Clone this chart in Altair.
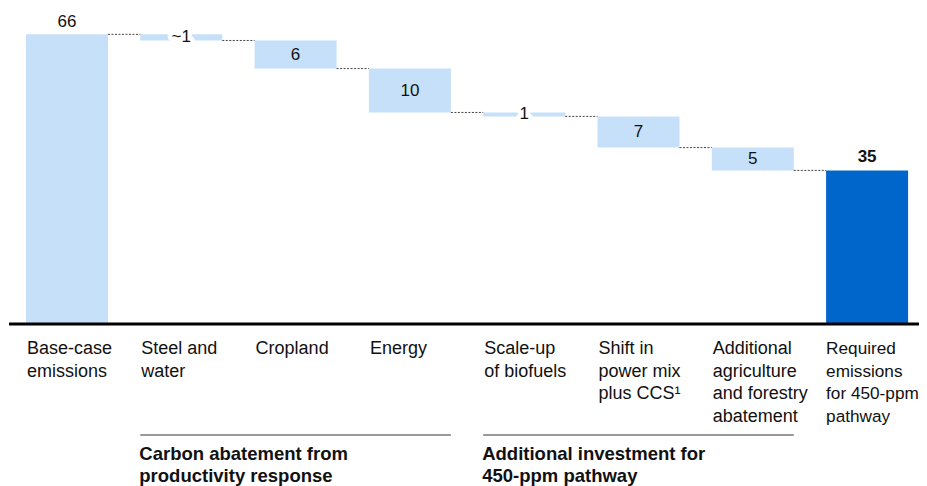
import altair as alt
import pandas as pd

# ---- data ----
categories = [
    "Base-case\nemissions",
    "Steel and\nwater",
    "Cropland",
    "Energy",
    "Scale-up\nof biofuels",
    "Shift in\npower mix\nplus CCS¹",
    "Additional\nagriculture\nand forestry\nabatement",
    "Required\nemissions\nfor 450-ppm\npathway",
]
kinds = ["base", "step", "step", "step", "step", "step", "step", "result"]
amounts = [66, 1.4, 6.4, 10.0, 0.9, 7.1, 5.2, 35]
value_labels = ["66", "~1", "6", "10", "1", "7", "5", "35"]

group_labels = ["Carbon abatement from\nproductivity response",
                "Additional investment for\n450-ppm pathway"]
group_first = [1, 4]
group_last = [3, 6]

# ---- layout / style ----
HW = 0.3587  # half bar width in category units
X_DOMAIN = [-0.5074, 7.4541]
LIGHT = "#C6E0FA"
DARK = "#0066CC"
FONT = "Liberation Sans"

rows = []
level = 0.0
for i, (c, k, a, lab) in enumerate(zip(categories, kinds, amounts, value_labels)):
    if k in ("base", "result"):
        start, end = 0.0, float(a)
    else:
        start, end = level, level - a
    level = end
    rows.append(dict(idx=i, cat=c, kind=k, start=start, end=end,
                     mid=(start + end) / 2, top=max(start, end),
                     left=i - HW, right=i + HW, label=lab, amount=a))
df = pd.DataFrame(rows)

conn = pd.DataFrame([dict(x=r["right"], x2=df.loc[i + 1, "left"], y=r["end"])
                     for i, r in df.iloc[:-1].iterrows()])

gdf = pd.DataFrame(dict(label=group_labels,
                        x=[f - HW for f in group_first],
                        x2=[l + HW for l in group_last]))

axis_df = pd.DataFrame(dict(x=[X_DOMAIN[0]], x2=[X_DOMAIN[1]], y=[0]))

xs = alt.Scale(domain=X_DOMAIN, nice=False, zero=False)
ys = alt.Scale(domain=[0, 72], nice=False)

base = alt.Chart(df)

bars = base.mark_rect().encode(
    x=alt.X("left:Q", scale=xs, axis=None),
    x2="right:Q",
    y=alt.Y("start:Q", scale=ys, axis=None),
    y2="end:Q",
    color=alt.Color("kind:N", legend=None,
                    scale=alt.Scale(domain=["base", "step", "result"],
                                    range=[LIGHT, LIGHT, DARK])),
)

baseline = alt.Chart(axis_df).mark_rule(color="black", strokeWidth=3).encode(
    x=alt.X("x:Q", scale=xs, axis=None), x2="x2:Q",
    y=alt.Y("y:Q", scale=ys, axis=None))

connectors = alt.Chart(conn).mark_rule(color="#444", strokeWidth=1,
                                       strokeDash=[2, 1.5]).encode(
    x=alt.X("x:Q", scale=xs, axis=None), x2="x2:Q",
    y=alt.Y("y:Q", scale=ys, axis=None))

halo = base.transform_filter("datum.kind == 'step' && datum.amount < 2").mark_text(
    font=FONT, fontSize=17, baseline="middle", align="center",
    stroke="white", strokeWidth=9, fill="white", strokeJoin="round").encode(
    x=alt.X("idx:Q", scale=xs, axis=None), y=alt.Y("mid:Q", scale=ys, axis=None),
    text="label:N")

step_labels = base.transform_filter("datum.kind == 'step'").mark_text(
    font=FONT, fontSize=17, baseline="middle", align="center", color="#111").encode(
    x=alt.X("idx:Q", scale=xs, axis=None), y=alt.Y("mid:Q", scale=ys, axis=None),
    text="label:N")

base_label = base.transform_filter("datum.kind == 'base'").mark_text(
    font=FONT, fontSize=17, baseline="middle", align="center", color="#111", dy=-12).encode(
    x=alt.X("idx:Q", scale=xs, axis=None), y=alt.Y("top:Q", scale=ys, axis=None),
    text="label:N")

result_label = base.transform_filter("datum.kind == 'result'").mark_text(
    font=FONT, fontSize=17, fontWeight="bold", baseline="middle", align="center",
    color="#111", dy=-13).encode(
    x=alt.X("idx:Q", scale=xs, axis=None), y=alt.Y("top:Q", scale=ys, axis=None),
    text="label:N")

cat_labels = base.transform_filter("datum.kind != 'result'").mark_text(
    font=FONT, fontSize=18, align="left", baseline="alphabetic", dx=1, dy=30,
    lineBreak="\n", lineHeight=22.5, color="#111").encode(
    x=alt.X("left:Q", scale=xs, axis=None), y=alt.datum(0, scale=ys, axis=None),
    text="cat:N")

last_label = base.transform_filter("datum.kind == 'result'").mark_text(
    font=FONT, fontSize=17.2, align="left", baseline="alphabetic", dx=0, dy=30,
    lineBreak="\n", lineHeight=22.5, color="#111").encode(
    x=alt.X("left:Q", scale=xs, axis=None), y=alt.datum(0, scale=ys, axis=None),
    text="cat:N")

group_rules = alt.Chart(gdf).mark_rule(color="#333", strokeWidth=1).encode(
    x=alt.X("x:Q", scale=xs, axis=None), x2="x2:Q", y=alt.value(427))

group_text = alt.Chart(gdf).mark_text(
    font=FONT, fontSize=18.5, fontWeight="bold", align="left", baseline="alphabetic",
    dx=-1, lineBreak="\n", lineHeight=22, color="#111").encode(
    x=alt.X("x:Q", scale=xs, axis=None), y=alt.value(452), text="label:N")

chart = alt.layer(bars, baseline, connectors, halo, step_labels, base_label,
                  result_label, cat_labels, last_label, group_rules, group_text).properties(
    width=910, height=316,
    autosize=alt.AutoSizeParams(type="none"),
    padding={"left": 1, "top": 0, "right": 0, "bottom": 172},
    background="white",
).configure_view(stroke=None, strokeWidth=0)

chart.save("out.html", embed_options={"renderer": "svg", "actions": False})
